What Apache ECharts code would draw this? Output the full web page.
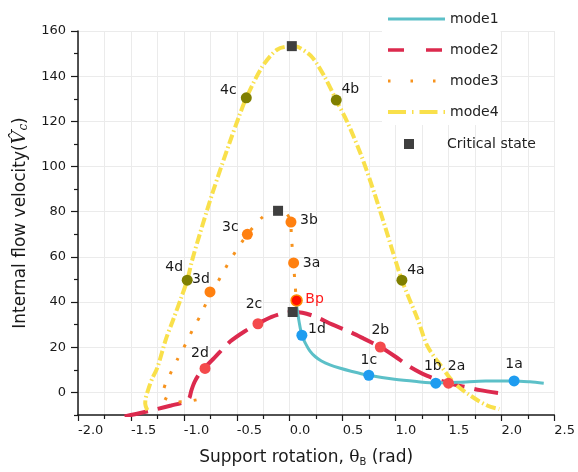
<!DOCTYPE html>
<html>
<head>
<meta charset="utf-8">
<script src="https://cdn.jsdelivr.net/npm/echarts@6/dist/echarts.min.js"></script>
<style>
  html, body { margin: 0; padding: 0; background: #fff; }
  #chart { width: 578px; height: 472px; }
</style>
</head>
<body>
<div id="chart"></div>
<script>
// curves, [rotation, velocity]
var mode1 = [[0.065, 38.5], [0.09, 31], [0.115, 25.3], [0.15, 21.6], [0.19, 18.4], [0.24, 15.9], [0.30, 13.9],
  [0.38, 12.2], [0.47, 10.8], [0.58, 9.4], [0.747, 7.6], [0.99, 5.8], [1.2, 4.8], [1.38, 4.2], [1.6, 4.5],
  [1.85, 5.1], [2.12, 5.1], [2.27, 4.7], [2.40, 4.1]];
var mode2 = [[-1.56, -10.6], [-1.38, -8.8], [-1.25, -7.3], [-1.12, -5.8], [-1.0, -4.3], [-0.95, -2.6],
  [-0.93, 0.7], [-0.90, 4.5], [-0.86, 7.8], [-0.81, 10.6], [-0.71, 15.4], [-0.56, 22.6], [-0.42, 27.2],
  [-0.30, 30.4], [-0.17, 33.4], [-0.07, 34.9], [0.03, 35.6], [0.12, 35.3], [0.25, 33.4], [0.40, 30.1],
  [0.55, 27.2], [0.70, 23.8], [0.856, 20.1], [1.0, 15.8], [1.12, 11.8], [1.30, 7.3], [1.50, 4.1],
  [1.65, 2.5], [1.80, 1.0], [1.98, -0.3]];
var mode3 = [[-0.88, -3.3], [-0.97, -4.0], [-1.06, -4.2], [-1.15, -3.2], [-1.21, -1.5], [-1.19, 1.5],
  [-1.17, 4.4], [-1.13, 8.1], [-1.06, 14.7], [-0.98, 21.7], [-0.92, 27.5], [-0.85, 33.5], [-0.79, 39.4],
  [-0.73, 44.5], [-0.65, 51.4], [-0.57, 58], [-0.48, 64.6], [-0.40, 70], [-0.25, 77.9], [-0.11, 80.4],
  [-0.03, 79], [0.0, 77], [0.012, 75.4], [0.015, 69.4], [0.037, 57.3], [0.047, 50], [0.063, 40.7]];
var mode4 = [[-1.345, -7.8], [-1.365, -5], [-1.36, -2.5], [-1.335, 1.5], [-1.30, 6], [-1.25, 11],
  [-1.17, 23.5], [-1.10, 32.3], [-1.02, 42.6], [-0.968, 49.7], [-0.92, 58.8], [-0.85, 70], [-0.73, 88.2],
  [-0.57, 110.3], [-0.48, 122], [-0.41, 130.4], [-0.26, 144.1], [-0.12, 151.7], [0.02, 153.3], [0.08, 152.9],
  [0.21, 148.5], [0.33, 139.7], [0.44, 129.4], [0.55, 119.1], [0.68, 104.4], [0.80, 88.2], [0.90, 73.5],
  [1.06, 49.7], [1.21, 32.3], [1.30, 20.6], [1.43, 11.7], [1.55, 4.4], [1.71, -1.5], [1.87, -5.9], [1.98, -7.4]];

// marked states [name, rotation, velocity]
var points1 = [['1a', 2.12, 5.1], ['1b', 1.38, 4.1], ['1c', 0.747, 7.6], ['1d', 0.115, 25.3]];
var points2 = [['2a', 1.50, 4.1], ['2b', 0.856, 20.1], ['2c', -0.30, 30.4], ['2d', -0.80, 10.6]];
var points3 = [['3a', 0.037, 57.3], ['3b', 0.012, 75.4], ['3c', -0.40, 70], ['3d', -0.753, 44.5]];
var points4 = [['4a', 1.06, 49.7], ['4b', 0.44, 129.4], ['4c', -0.41, 130.4], ['4d', -0.968, 49.7]];
var bifurcation = [['Bp', 0.065, 40.7]];
var critical = [[0.02, 153.3], [-0.11, 80.4], [0.028, 35.6]];

// y ticks: labelled every 20, small ones in between
var yMajorTicks = [0, 20, 40, 60, 80, 100, 120, 140, 160];
var yMinorTicks = [-10, 10, 30, 50, 70, 90, 110, 130, 150];

// where each label sits relative to its dot (px)
var labelOffset = {
  '1a': [0, -17], '1b': [-3, -17], '1c': [0, -15], '1d': [15, -6],
  '2a': [8, -17], '2b': [0, -17], '2c': [-4, -19], '2d': [-5, -15],
  '3a': [18, 0], '3b': [18, -2], '3c': [-17, -7], '3d': [-9, -13],
  '4a': [14, -10], '4b': [14, -11], '4c': [-18, -8], '4d': [-13, -13],
  'Bp': [18, -1]
};

var FONT = 'DejaVu Sans';
var INK = '#1a1a1a';

function pointSeries(name, pts, color, labelColor, border) {
  return {
    name: name,
    type: 'scatter',
    symbol: 'circle',
    symbolSize: 11,
    z: 5,
    itemStyle: { color: color, borderColor: border || color, borderWidth: border ? 1.5 : 0, opacity: 1 },
    label: {
      show: true, position: 'inside', formatter: '{b}',
      fontFamily: FONT, fontSize: 14, color: labelColor || INK
    },
    data: pts.map(function (p) {
      return { name: p[0], value: [p[1], p[2]], label: { offset: labelOffset[p[0]] } };
    })
  };
}

var myChart = echarts.init(document.getElementById('chart'), null, { renderer: 'canvas' });

var option = {
  animation: false,
  backgroundColor: '#fff',
  grid: { left: 78, right: 20, top: 31, bottom: 56 },
  legend: [{
    data: [
      { name: 'mode1', lineStyle: { width: 3 } },
      { name: 'mode2', lineStyle: { width: 3.5, type: [16, 22] } },
      { name: 'mode3', lineStyle: { width: 3, type: [2.5, 20] } },
      { name: 'mode4', lineStyle: { width: 4, type: [18, 6, 1.5, 6] } }
    ],
    orient: 'vertical',
    left: 382, top: 7,
    padding: [5, 2, 6, 4],
    itemWidth: 57, itemHeight: 14, itemGap: 17,
    backgroundColor: '#fff',
    itemStyle: { opacity: 0 },
    textStyle: { fontFamily: FONT, fontSize: 14, color: '#222' }
  }, {
    data: ['Critical state'],
    orient: 'vertical',
    left: 404, top: 137,
    padding: 0,
    itemWidth: 10, itemHeight: 10,
    textStyle: { fontFamily: FONT, fontSize: 14, color: '#222', padding: [0, 0, 0, 28] }
  }],
  xAxis: {
    type: 'value',
    min: -2, max: 2.5, interval: 0.5,
    name: 'Support rotation, {t|θ}{s|B} (rad)',
    nameLocation: 'middle',
    nameGap: 33,
    nameTextStyle: {
      fontFamily: FONT, fontSize: 17, color: INK, padding: [0, 20, 0, 0],
      rich: {
        t: { fontFamily: 'DejaVu Serif', fontSize: 17, color: INK },
        s: { fontFamily: FONT, fontSize: 10, color: INK, padding: [9, 0, 0, 0] }
      }
    },
    axisLine: { onZero: false, lineStyle: { color: INK, width: 1.5 } },
    axisTick: { length: 6, lineStyle: { color: INK, width: 1.2 } },
    minorTick: { show: true, splitNumber: 2, length: 4, lineStyle: { color: INK, width: 1.2 } },
    splitLine: { lineStyle: { color: '#ebebeb', width: 1 } },
    minorSplitLine: { show: true, lineStyle: { color: '#ebebeb', width: 1 } },
    axisLabel: {
      fontFamily: FONT, fontSize: 13, color: INK, margin: 9, align: 'left',
      formatter: function (v) { return v.toFixed(1); }
    }
  },
  yAxis: [{
    type: 'value',
    min: -10, max: 160, interval: 10,
    name: 'Internal flow velocity({v|V̂}{c|c})',
    nameLocation: 'middle',
    nameGap: 41,
    nameTextStyle: {
      fontFamily: FONT, fontSize: 17, color: INK,
      rich: {
        v: { fontFamily: 'DejaVu Serif', fontStyle: 'italic', fontSize: 19, color: INK },
        c: { fontFamily: 'DejaVu Serif', fontStyle: 'italic', fontSize: 12, color: INK, padding: [8, 0, 0, 0] }
      }
    },
    axisLine: { show: true, onZero: false, lineStyle: { color: INK, width: 1.5 } },
    axisTick: { show: true, length: 7, customValues: yMajorTicks, lineStyle: { color: INK, width: 1.2 } },
    splitLine: { lineStyle: { color: '#ebebeb', width: 1 } },
    axisLabel: {
      fontFamily: FONT, fontSize: 13, color: INK, margin: 12, customValues: yMajorTicks
    }
  }, {
    // second pass over the same scale just for the short in-between ticks
    type: 'value',
    position: 'left',
    min: -10, max: 160, interval: 10,
    axisLine: { show: false, onZero: false },
    axisTick: { show: true, length: 4, customValues: yMinorTicks, lineStyle: { color: INK, width: 1.2 } },
    splitLine: { show: false },
    axisLabel: { show: false }
  }],
  series: [
    {
      name: 'mode1', type: 'line', data: mode1, symbol: 'none', smooth: 0.3, z: 3,
      lineStyle: { color: '#5cc0c8', width: 3 }, itemStyle: { color: '#5cc0c8' }
    },
    {
      name: 'mode2', type: 'line', data: mode2, symbol: 'none', smooth: 0.3, z: 2,
      lineStyle: { color: '#dc2a4e', width: 4, type: [24, 10] }, itemStyle: { color: '#dc2a4e' }
    },
    {
      name: 'mode3', type: 'line', data: mode3, symbol: 'none', smooth: 0.2, z: 2,
      lineStyle: { color: '#f7931e', width: 3, type: [3, 12] }, itemStyle: { color: '#f7931e' }
    },
    {
      name: 'mode4', type: 'line', data: mode4, symbol: 'none', smooth: 0.3, z: 2,
      lineStyle: { color: '#f9e04b', width: 4, type: [10, 3, 1.5, 3] }, itemStyle: { color: '#f9e04b' }
    },
    {
      name: 'Critical state', type: 'scatter', symbol: 'rect', symbolSize: 10, z: 6,
      itemStyle: { color: '#3f3f3f', opacity: 1 },
      data: critical
    },
    pointSeries('p1', points1, '#1e9cf0'),
    pointSeries('p2', points2, '#f44a4c'),
    pointSeries('p3', points3, '#ff8010'),
    pointSeries('p4', points4, '#7f7f00'),
    pointSeries('bp', bifurcation, '#ff1000', '#ff1a1a', '#ff8a00')
  ]
};

myChart.setOption(option);
window.addEventListener('resize', function () {
  myChart.resize();
});
</script>
</body>
</html>
